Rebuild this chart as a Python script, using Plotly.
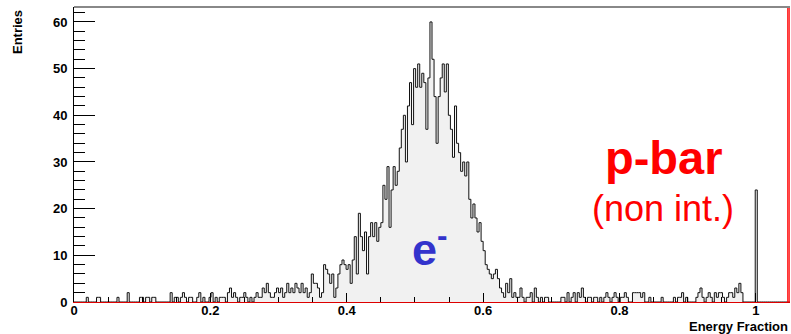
import numpy as np
import plotly.graph_objects as go

# ---------------- data ----------------
# e- histogram: 350 bins of width 0.003 covering Energy Fraction 0 .. 1.05
x_min = 0.0
x_max = 1.05
n_bins = 350
electron_counts = [
    0, 0, 0, 0, 0, 0, 1, 0, 0, 0,
    0, 1, 1, 0, 0, 0, 0, 0, 0, 0,
    0, 1, 0, 0, 0, 0, 2, 0, 0, 0,
    0, 0, 1, 1, 0, 1, 1, 0, 1, 1,
    0, 0, 0, 0, 0, 0, 0, 2, 0, 1,
    1, 0, 1, 2, 1, 0, 1, 1, 0, 0,
    1, 2, 0, 1, 0, 0, 1, 2, 0, 1,
    0, 1, 1, 1, 0, 2, 3, 1, 2, 1,
    0, 1, 1, 2, 1, 0, 1, 0, 1, 2,
    1, 1, 3, 2, 4, 2, 1, 1, 2, 3,
    2, 3, 1, 2, 4, 2, 3, 2, 4, 3,
    2, 4, 2, 3, 1, 2, 6, 4, 4, 3,
    1, 2, 8, 7, 6, 4, 6, 1, 3, 6,
    8, 9, 8, 7, 8, 4, 9, 14, 6, 19,
    14, 11, 15, 6, 14, 17, 14, 17, 13, 16,
    17, 25, 22, 29, 16, 24, 29, 25, 28, 33,
    37, 40, 30, 42, 47, 38, 50, 46, 51, 46,
    49, 47, 37, 48, 60, 52, 44, 34, 44, 48,
    51, 45, 51, 40, 37, 31, 42, 34, 32, 28,
    30, 27, 30, 22, 18, 21, 18, 15, 17, 13,
    11, 8, 7, 6, 5, 6, 7, 5, 3, 2,
    1, 4, 2, 5, 1, 2, 1, 1, 3, 1,
    0, 1, 1, 2, 0, 3, 1, 0, 1, 0,
    1, 1, 0, 0, 0, 0, 0, 0, 1, 1,
    0, 2, 0, 1, 2, 0, 2, 1, 3, 1,
    0, 1, 1, 0, 1, 1, 0, 1, 0, 1,
    2, 1, 0, 1, 2, 1, 0, 1, 1, 2,
    1, 0, 0, 2, 2, 2, 2, 1, 2, 0,
    0, 1, 0, 0, 0, 0, 0, 1, 0, 0,
    0, 0, 0, 1, 0, 1, 1, 2, 0, 1,
    0, 0, 0, 0, 1, 2, 3, 1, 0, 1,
    2, 1, 0, 2, 1, 2, 2, 1, 0, 1,
    2, 2, 1, 3, 2, 4, 2, 0, 0, 0,
    0, 0, 0, 24, 0, 0, 0, 0, 0, 0,
    0, 0, 0, 0, 0, 0, 0, 0, 0, 0,
]

# p-bar (non interacting): single overflowing bin at the right edge
pbar_edges = [1.047, 1.050]
pbar_counts = [1000]

x_tick_vals = [0, 0.2, 0.4, 0.6, 0.8, 1.0]
x_tick_text = ["0", "0.2", "0.4", "0.6", "0.8", "1"]
y_tick_vals = [0, 10, 20, 30, 40, 50, 60]
y_tick_text = ["0", "10", "20", "30", "40", "50", "60"]

x_title = "Energy Fraction"
y_title = "Entries"
label_pbar = "p-bar"
label_nonint = "(non int.)"
label_e = "e<sup>-</sup>"

# ---------------- figure ----------------
edges = np.linspace(x_min, x_max, n_bins + 1)
step_y = list(electron_counts) + [electron_counts[-1]]

FONT = "Liberation Sans, Arial, Helvetica, sans-serif"

fig = go.Figure()

fig.add_trace(go.Scatter(
    x=edges, y=step_y, mode="lines", line_shape="hv",
    line=dict(color="#111111", width=1),
    fill="tozeroy", fillcolor="#f1f1f1",
    hoverinfo="skip", showlegend=False,
))

pb_x = [pbar_edges[0], pbar_edges[0], pbar_edges[1], pbar_edges[1]]
pb_y = [0, pbar_counts[0], pbar_counts[0], 0]
fig.add_trace(go.Scatter(
    x=pb_x, y=pb_y, mode="lines",
    line=dict(color="#ff0000", width=1.5),
    hoverinfo="skip", showlegend=False,
))

W, H = 791, 334
L, R, T, B = 74, 1, 7, 32

fig.update_layout(
    width=W, height=H,
    margin=dict(l=L, r=R, t=T, b=B, autoexpand=False),
    paper_bgcolor="white", plot_bgcolor="white",
    font=dict(family=FONT, size=13, color="black"),
    showlegend=False,
)

fig.update_xaxes(
    range=[x_min, x_max], automargin=False,
    tickvals=x_tick_vals, ticktext=x_tick_text,
    ticks="inside", ticklen=9, tickcolor="black", tickwidth=1,
    ticklabelstandoff=-4,
    minor=dict(dtick=0.05, tick0=0, ticks="inside", ticklen=5, tickcolor="black"),
    showline=True, linecolor="#dd0000", linewidth=1,
    showgrid=False, zeroline=False,
    tickfont=dict(family=FONT, size=13, color="black", weight="bold"),
)
fig.update_yaxes(
    range=[0, 63.2], automargin=False,
    tickvals=y_tick_vals, ticktext=y_tick_text,
    ticks="inside", ticklen=21, tickcolor="black", tickwidth=1,
    ticklabelstandoff=3,
    minor=dict(dtick=2, tick0=0, ticks="inside", ticklen=11, tickcolor="black"),
    showline=True, linecolor="black", linewidth=1,
    showgrid=False, zeroline=False,
    tickfont=dict(family=FONT, size=13, color="black", weight="bold"),
)

fig.add_shape(type="line", xref="paper", yref="paper", x0=0, x1=1, y0=1, y1=1,
              line=dict(color="#888888", width=2))

pw, ph = W - L - R, H - T - B


def px2paper(px, py):
    return (px - L) / pw, (H - B - py) / ph


ax, ay = px2paper(18, 8)
fig.add_annotation(text=y_title, xref="paper", yref="paper", x=ax, y=ay,
                   xanchor="center", yanchor="top", textangle=-90, showarrow=False,
                   font=dict(family=FONT, size=13, color="black", weight="bold"))
ax, ay = px2paper(790, 326)
fig.add_annotation(text=x_title, xref="paper", yref="paper", x=ax, y=ay,
                   xanchor="right", yanchor="middle", showarrow=False,
                   font=dict(family=FONT, size=13, color="black", weight="bold"))

ax, ay = px2paper(664, 158)
fig.add_annotation(text=label_pbar, xref="paper", yref="paper", x=ax, y=ay,
                   xanchor="center", yanchor="middle", showarrow=False,
                   font=dict(family=FONT, size=47, color="#ff0000", weight="bold"))
ax, ay = px2paper(663, 208)
fig.add_annotation(text=label_nonint, xref="paper", yref="paper", x=ax, y=ay,
                   xanchor="center", yanchor="middle", showarrow=False,
                   font=dict(family=FONT, size=36, color="#ff0000"))
ax, ay = px2paper(430, 246)
fig.add_annotation(text=label_e, xref="paper", yref="paper", x=ax, y=ay,
                   xanchor="center", yanchor="middle", showarrow=False,
                   font=dict(family=FONT, size=45, color="#3333cc", weight="bold"))

fig.write_html(
    "out.html",
    config={"displayModeBar": False},
    post_script="document.body.style.margin='0px';document.body.style.overflow='hidden';",
)
